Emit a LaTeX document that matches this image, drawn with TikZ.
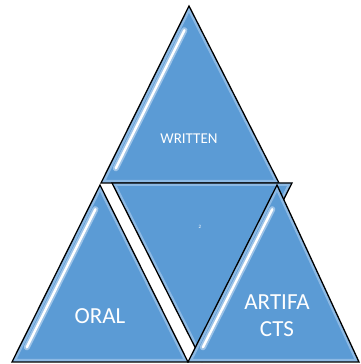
\documentclass[tikz,border=0pt]{standalone}
\usepackage{fontspec}
\setsansfont{Carlito}
\usetikzlibrary{calc}
\definecolor{triblue}{RGB}{91,155,213}
\definecolor{triedge}{RGB}{140,185,228}

\begin{document}
\begin{tikzpicture}[x=1pt,y=1pt,
    tri/.style={draw=black, line width=1.3pt, fill=triblue, line join=miter},
    glow/.style={draw=triedge, line width=6pt, line join=round},
    haze/.style={triedge!60!white, line width=6pt, opacity=0.7, line cap=round},
    gloss/.style={white, line width=2.4pt, line cap=round},
    lbl/.style={text=white, font=\sffamily, inner sep=0pt}]
    \useasboundingbox (0,0) rectangle (361,364);
    %%%%%%%%%%%%%%%%%%%%%%%%%%%%%%%%
    \coordinate (wa) at (189,358);
    \coordinate (wl) at (101,181);
    \coordinate (wr) at (279,181);
    \coordinate (ml) at (112,181);
    \coordinate (mr) at (292,181);
    \coordinate (mb) at (202,3);
    \coordinate (oa) at (100,179);
    \coordinate (ol) at (12,2);
    \coordinate (or) at (188,2);
    \coordinate (aa) at (277,179);
    \coordinate (al) at (188,2);
    \coordinate (ar) at (359,2);
    %%%%%%%%%%%%%%%%%%%%%%%%%%%%%%%%
    \draw[tri, path picture={\draw[glow] (wa)--(wl)--(wr)--cycle;}] (wa)--(wl)--(wr)--cycle;
    \draw[haze] ($(wa)!0.12!(wl)+(6,-3)$) -- ($(wa)!0.9!(wl)+(6,-3)$);
    \draw[gloss] ($(wa)!0.12!(wl)+(6,-3)$) -- ($(wa)!0.9!(wl)+(6,-3)$);
    \draw[tri, path picture={\draw[glow] (ml)--(mr)--(mb)--cycle;}] (ml)--(mr)--(mb)--cycle;
    \draw[tri, path picture={\draw[glow] (oa)--(ol)--(or)--cycle;}] (oa)--(ol)--(or)--cycle;
    \draw[haze] ($(oa)!0.12!(ol)+(6,-3)$) -- ($(oa)!0.9!(ol)+(6,-3)$);
    \draw[gloss] ($(oa)!0.12!(ol)+(6,-3)$) -- ($(oa)!0.9!(ol)+(6,-3)$);
    \draw[tri, path picture={\draw[glow] (aa)--(al)--(ar)--cycle;}] (aa)--(al)--(ar)--cycle;
    \draw[haze] ($(aa)!0.12!(al)+(6,-3)$) -- ($(aa)!0.9!(al)+(6,-3)$);
    \draw[gloss] ($(aa)!0.12!(al)+(6,-3)$) -- ($(aa)!0.9!(al)+(6,-3)$);
    %%%%%%%%%%%%%%%%%%%%%%%%%%%%%%%%
    \node[lbl, font=\sffamily\fontsize{15}{18}\selectfont] (written) at (189,225) {WRITTEN};
    \node[lbl, font=\sffamily\fontsize{5}{6}\selectfont] (two) at (200,137) {2};
    \node[lbl, font=\sffamily\fontsize{23}{27}\selectfont] (oral) at (100,48) {ORAL};
    \node[lbl, align=center, font=\sffamily\fontsize{23}{27}\selectfont] (artifacts) at (277,48) {ARTIFA\\CTS};
\end{tikzpicture}
\end{document}
